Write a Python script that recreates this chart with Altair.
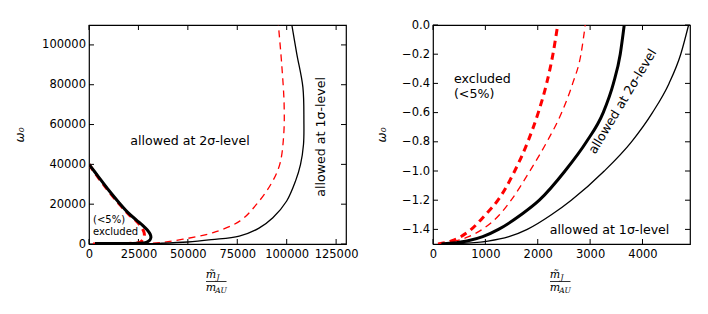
import altair as alt
import pandas as pd

# ---------------- data: left panel ----------------
L_XTICKS = [0, 25000, 50000, 75000, 100000, 125000]
L_YTICKS = [0, 20000, 40000, 60000, 80000, 100000]
L_XDOM = [0, 130000]
L_YDOM = [0, 110000]

l_thick_black_x = [0, 5000, 10000, 15000, 20000, 24000, 27000, 29500, 31000, 31300, 30500, 28500, 25000, 15000, 3000]
l_thick_black_y = [40000, 33500, 27000, 21000, 15500, 12000, 9500, 7000, 4800, 3200, 1700, 700, 400, 250, 200]

l_thick_red_x = [0, 5000, 10000, 15000, 20000, 24000, 26500, 27800, 28000, 27500, 26000, 20000, 10000, 2000]
l_thick_red_y = [40000, 33000, 26500, 20500, 15000, 11500, 8500, 6000, 4000, 2500, 1000, 300, 100, 0]

l_thin_red_x = [2000, 15000, 25000, 35800, 47600, 62800, 76400, 84800, 92000, 96500, 98500, 98700, 97500, 95800]
l_thin_red_y = [0, 100, 300, 650, 2400, 5700, 11600, 20000, 30000, 40000, 55000, 70000, 90000, 110000]

l_thin_black_x = [27000, 35800, 50000, 62000, 76000, 86000, 93000, 100000, 104500, 107000, 108500, 108700, 108200, 105100, 102600]
l_thin_black_y = [150, 350, 1000, 2200, 4000, 8000, 13200, 21600, 31700, 40000, 50000, 62000, 78700, 95500, 110000]

# ---------------- data: right panel ----------------
R_XTICKS = [0, 1000, 2000, 3000, 4000]
R_YTICKS = [-1.4, -1.2, -1.0, -0.8, -0.6, -0.4, -0.2, 0.0]
R_XDOM = [0, 4907]
R_YDOM = [-1.5, 0]

r_w = [0, -0.2, -0.4, -0.6, -0.8, -1.0, -1.2, -1.3, -1.4, -1.45, -1.48, -1.5]
r_thick_black = [3651, 3575, 3445, 3250, 2930, 2520, 2030, 1680, 1250, 950, 650, 160]
r_thin_black = [4880, 4730, 4507, 4190, 3790, 3270, 2640, 2260, 1800, 1450, 1050, 300]
r_thin_red = [2907, 2825, 2667, 2457, 2175, 1850, 1492, 1270, 940, 680, 420, 158]
r_thick_red = [2381, 2290, 2170, 2010, 1810, 1560, 1240, 1000, 730, 530, 340, 95]

W, H = 257, 219
FONT = "DejaVu Sans"


def line_layer(xs, ys, xsc, ysc, xax, yax, color, width, dash=None, interp="catmull-rom", sort_x=False):
    df = pd.DataFrame({"x": xs, "y": ys})
    if sort_x:
        df = df.sort_values("x").reset_index(drop=True)
    df["i"] = range(len(df))
    kw = dict(color=color, strokeWidth=width, clip=True, interpolate=interp)
    if dash:
        kw["strokeDash"] = dash
    return alt.Chart(df).mark_line(**kw).encode(
        x=alt.X("x:Q", scale=xsc, axis=xax),
        y=alt.Y("y:Q", scale=ysc, axis=yax),
        order="i:Q",
    )


def tick_layers(xticks, yticks, xsc, ysc, xax, yax):
    dx = pd.DataFrame({"x": xticks})
    dy = pd.DataFrame({"y": yticks})
    L = 5
    top = alt.Chart(dx).mark_rule(color="black", strokeWidth=1).encode(
        x=alt.X("x:Q", scale=xsc, axis=xax), y=alt.value(0), y2=alt.value(L))
    bot = alt.Chart(dx).mark_rule(color="black", strokeWidth=1).encode(
        x=alt.X("x:Q", scale=xsc, axis=xax), y=alt.value(H - L), y2=alt.value(H))
    left = alt.Chart(dy).mark_rule(color="black", strokeWidth=1).encode(
        y=alt.Y("y:Q", scale=ysc, axis=yax), x=alt.value(0), x2=alt.value(L))
    right = alt.Chart(dy).mark_rule(color="black", strokeWidth=1).encode(
        y=alt.Y("y:Q", scale=ysc, axis=yax), x=alt.value(W - L), x2=alt.value(W))
    return [top, bot, left, right]


def fraction_layers():
    one = pd.DataFrame({"a": [0]})
    serif = "DejaVu Serif"
    num = alt.Chart(one).mark_text(text="m\u0303", font=serif, fontStyle="italic", fontSize=11,
                                   baseline="middle", align="center").encode(
        x=alt.value(122), y=alt.value(249.5))
    numsub = alt.Chart(one).mark_text(text="J", font=serif, fontStyle="italic", fontSize=7.5,
                                      baseline="middle", align="center").encode(
        x=alt.value(129), y=alt.value(252.5))
    bar = alt.Chart(one).mark_rule(color="black", strokeWidth=0.8).encode(
        x=alt.value(117), x2=alt.value(137.5), y=alt.value(256.5))
    den = alt.Chart(one).mark_text(text="m", font=serif, fontStyle="italic", fontSize=11,
                                   baseline="middle", align="center").encode(
        x=alt.value(122), y=alt.value(263))
    densub = alt.Chart(one).mark_text(text="AU", font=serif, fontStyle="italic", fontSize=7.5,
                                      baseline="middle", align="center").encode(
        x=alt.value(132), y=alt.value(266))
    return [num, numsub, bar, den, densub]


def text_layer(x, y, txt, xsc, ysc, xax, yax, size=12.6, angle=0, align="center"):
    df = pd.DataFrame({"x": [x], "y": [y], "s": [txt]})
    return alt.Chart(df).mark_text(font=FONT, fontSize=size, angle=angle, align=align,
                                   baseline="middle", color="black").encode(
        x=alt.X("x:Q", scale=xsc, axis=xax), y=alt.Y("y:Q", scale=ysc, axis=yax), text="s:N")


AXKW = dict(labelOverlap=False, labelFlush=False, labelBound=False)

# ---------------- left panel ----------------
lxs = alt.Scale(domain=L_XDOM, nice=False, zero=False)
lys = alt.Scale(domain=L_YDOM, nice=False, zero=False)
lxa = alt.Axis(values=L_XTICKS, format="d", title=None, labelPadding=4, **AXKW)
lya = alt.Axis(values=L_YTICKS, format="d", title="\u03c9\u2080", titlePadding=15, labelPadding=3.5,
               titleFontStyle="italic", **AXKW)

left_layers = tick_layers(L_XTICKS, L_YTICKS, lxs, lys, lxa, lya) + [
    line_layer(l_thick_red_x, l_thick_red_y, lxs, lys, lxa, lya, "#ff0000", 3, [7, 5]),
    line_layer(l_thin_red_x, l_thin_red_y, lxs, lys, lxa, lya, "#ff0000", 1.3, [7, 5]),
    line_layer(l_thick_black_x, l_thick_black_y, lxs, lys, lxa, lya, "black", 3),
    line_layer(l_thin_black_x, l_thin_black_y, lxs, lys, lxa, lya, "black", 1.3),
    text_layer(51100, 51800, "allowed at 2\u03c3-level", lxs, lys, lxa, lya),
    text_layer(117400, 53800, "allowed at 1\u03c3-level", lxs, lys, lxa, lya, angle=270),
    text_layer(2020, 11900, "(<5%)", lxs, lys, lxa, lya, size=10, align="left"),
    text_layer(2020, 6190, "excluded", lxs, lys, lxa, lya, size=10, align="left"),
] + fraction_layers()

left = alt.layer(*left_layers).properties(width=W, height=H)

# ---------------- right panel ----------------
rxs = alt.Scale(domain=R_XDOM, nice=False, zero=False)
rys = alt.Scale(domain=R_YDOM, nice=False, zero=False)
rxa = alt.Axis(values=R_XTICKS, format="d", title=None, labelPadding=4, **AXKW)
rya = alt.Axis(values=R_YTICKS, format=".1f", title="\u03c9\u2080", titlePadding=13, labelPadding=3.5,
               titleFontStyle="italic", tickCount=8, **AXKW)

right_layers = tick_layers(R_XTICKS, R_YTICKS, rxs, rys, rxa, rya) + [
    line_layer(r_thick_red, r_w, rxs, rys, rxa, rya, "#ff0000", 3, [7, 5], "monotone", True),
    line_layer(r_thin_red, r_w, rxs, rys, rxa, rya, "#ff0000", 1.3, [7, 5], "monotone", True),
    line_layer(r_thick_black, r_w, rxs, rys, rxa, rya, "black", 3, None, "monotone", True),
    line_layer(r_thin_black, r_w, rxs, rys, rxa, rya, "black", 1.3, None, "monotone", True),
    text_layer(400, -0.368, "excluded", rxs, rys, rxa, rya, align="left"),
    text_layer(400, -0.47, "(<5%)", rxs, rys, rxa, rya, align="left"),
    text_layer(3619, -0.524, "allowed at 2\u03c3-level", rxs, rys, rxa, rya, angle=301),
    text_layer(3371, -1.402, "allowed at 1\u03c3-level", rxs, rys, rxa, rya),
] + fraction_layers()

right = alt.layer(*right_layers).properties(width=W, height=H)

chart = alt.hconcat(left, right, spacing=15).properties(
    padding={"left": 5, "top": 10, "right": 5, "bottom": 5}
).configure_view(
    stroke="black", strokeWidth=1.2
).configure_axis(
    domain=False, grid=False, tickSize=0, labelFont=FONT, labelFontSize=11.5,
    labelColor="black", titleFont=FONT, titleFontSize=12, titleColor="black",
    titleFontWeight="normal", labelOverlap=False, labelFlush=False
)

chart.save("out.html", embed_options={"renderer": "svg", "actions": False})
